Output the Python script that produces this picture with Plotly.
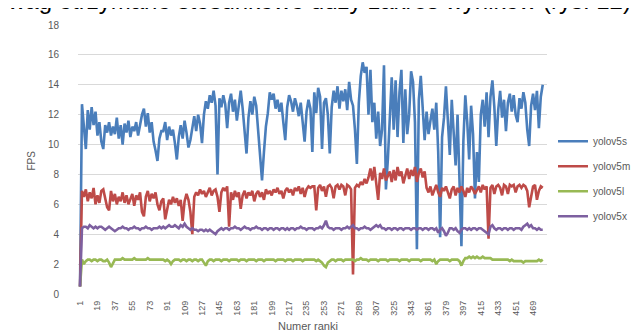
import plotly.graph_objects as go

# Frame index (every 2nd frame sampled)
frames = list(range(1, 481, 2))

yolov5s = [
 0.5, 12.7, 11.2, 9.7, 12.3, 11.0, 12.5, 11.3, 12.2, 10.6,
 11.5, 10.2, 9.7, 11.3, 10.8, 11.5, 10.6, 11.2, 10.7, 11.8,
 10.4, 11.3, 10.0, 11.4, 10.8, 11.6, 10.5, 11.2, 10.9, 11.5,
 10.6, 11.3, 12.0, 12.4, 11.2, 12.1, 10.8, 11.5, 10.2, 9.6,
 8.9, 10.4, 10.9, 10.9, 11.5, 10.3, 11.2, 10.6, 11.0, 10.1,
 9.0, 10.5, 11.3, 10.4, 11.6, 10.8, 9.8, 10.3, 11.2, 11.9,
 10.9, 12.0, 11.4, 10.1, 12.0, 12.9, 12.4, 13.3, 12.8, 13.6,
 12.6, 8.0, 13.1, 12.5, 13.3, 12.7, 11.1, 12.8, 13.4, 12.2,
 13.0, 11.6, 12.6, 13.6, 12.4, 11.0, 9.4, 11.8, 12.9, 12.0,
 13.2, 12.6, 11.0, 9.0, 7.6, 9.5, 11.2, 12.1, 13.5, 13.0,
 13.4, 12.4, 13.0, 12.2, 12.8, 11.5, 10.3, 12.5, 13.3, 12.9,
 12.2, 13.1, 12.6, 11.9, 12.8, 11.5, 10.2, 12.2, 13.0, 12.4,
 9.5, 13.5, 12.1, 13.8, 13.2, 9.7, 12.8, 13.1, 12.0, 9.4,
 12.5, 13.6, 12.8, 13.9, 12.4, 13.6, 12.9, 13.7, 12.3, 14.2,
 13.0, 12.6, 11.0, 8.7, 12.8, 14.6, 15.5, 14.8, 15.2, 12.0,
 15.0, 11.5, 12.8, 10.4, 12.2, 9.9, 11.0, 15.3, 7.0, 9.0,
 11.5, 14.5, 11.0, 14.3, 10.5, 13.5, 15.0, 10.1, 13.7, 10.7,
 12.0, 14.9, 14.2, 11.5, 3.0, 13.0, 14.6, 12.5, 10.3, 12.2,
 10.7, 11.6, 12.4, 11.0, 12.8, 9.5, 3.8, 10.5, 11.8, 13.9,
 11.5, 9.3, 13.0, 11.0, 8.6, 12.0, 8.0, 3.2, 10.2, 13.3,
 11.5, 9.0, 12.6, 10.7, 6.4, 9.5, 7.5, 12.0, 13.0, 11.2,
 13.5, 10.5, 13.2, 14.3, 12.5, 9.9, 12.3, 13.6, 11.8, 13.0,
 10.9, 12.8, 13.4, 12.2, 13.3, 12.0, 11.5, 13.1, 12.4, 13.5,
 12.8, 11.0, 9.9, 12.6, 13.4, 12.3, 13.6, 11.1, 13.2, 14.0,
]

yolov5m = [
 0.5, 6.9, 6.5, 7.0, 6.2, 6.8, 6.4, 7.1, 6.0, 6.6,
 6.1, 6.9, 7.0, 6.3, 5.8, 5.6, 6.9, 6.2, 6.7, 6.0,
 6.5, 6.2, 6.8, 6.1, 6.6, 6.0, 6.4, 6.7, 5.9, 6.6,
 6.3, 6.8, 5.5, 5.2, 6.5, 6.9, 6.2, 6.7, 6.4, 6.8,
 6.0, 5.6, 6.2, 6.4, 5.0, 5.6, 6.3, 6.0, 6.5, 6.1,
 6.4, 5.9, 6.3, 4.9, 6.2, 6.7, 6.3, 5.5, 4.0, 6.5,
 6.8, 6.6, 7.0, 6.7, 6.9, 6.5, 6.8, 7.1, 6.6, 6.9,
 7.0, 6.5, 5.5, 6.8, 7.1, 6.9, 7.2, 4.5, 6.8, 6.3,
 6.9, 6.5, 6.8, 5.7, 6.6, 6.9, 6.4, 6.8, 6.6, 6.9,
 6.2, 6.7, 6.9, 6.5, 6.8, 6.3, 7.0, 6.7, 6.9, 6.6,
 7.0, 6.8, 7.1, 6.7, 6.9, 6.4, 6.9, 7.1, 6.8, 7.0,
 6.6, 7.1, 6.9, 7.2, 6.7, 7.1, 6.5, 7.0, 7.2, 7.1,
 7.2, 7.2, 5.6, 7.1, 7.3, 6.9, 7.2, 6.5, 7.2, 7.3,
 7.1, 6.4, 7.2, 7.3, 7.0, 7.3, 7.2, 6.6, 7.3, 7.2,
 7.0, 1.3, 7.1, 7.3, 7.2, 7.5, 7.3, 7.7, 7.4, 7.8,
 8.4, 7.6, 8.5, 7.5, 6.3, 8.1, 7.7, 8.4, 7.6, 7.9,
 8.2, 7.5, 8.3, 7.6, 8.5, 7.9, 8.2, 7.4, 8.0, 8.4,
 7.7, 8.3, 7.9, 8.5, 7.5, 8.1, 8.4, 7.8, 8.2, 7.1,
 6.8, 7.2, 6.6, 7.0, 7.3, 6.8, 6.5, 7.1, 6.9, 7.2,
 6.7, 6.4, 7.0, 7.2, 6.6, 7.1, 6.8, 7.2, 6.9, 6.5,
 7.1, 6.8, 7.2, 7.0, 6.7, 7.0, 7.2, 6.8, 7.3, 7.0,
 7.2, 3.7, 7.1, 7.3, 6.7, 7.2, 7.3, 7.1, 6.6, 7.3,
 7.2, 6.7, 7.3, 7.2, 7.3, 6.8, 7.2, 7.3, 7.1, 7.3,
 7.2, 6.9, 5.8, 6.5, 7.2, 7.3, 6.3, 6.9, 7.2, 7.1,
]

yolov5l = [
 0.5, 2.3, 2.0, 2.2, 2.3, 2.3, 2.2, 2.3, 2.3, 2.2,
 2.3, 2.3, 2.2, 2.2, 2.3, 2.1, 1.8, 2.1, 2.3, 2.3,
 2.3, 2.3, 2.4, 2.3, 2.3, 2.3, 2.3, 2.3, 2.4, 2.3,
 2.3, 2.3, 2.3, 2.3, 2.3, 2.4, 2.3, 2.3, 2.3, 2.3,
 2.3, 2.3, 2.3, 2.3, 2.2, 2.3, 2.2, 2.0, 2.2, 2.3,
 2.3, 2.3, 2.2, 2.3, 2.3, 2.2, 2.3, 2.3, 2.2, 2.3,
 2.3, 2.2, 2.3, 2.3, 2.1, 1.9, 2.2, 2.3, 2.3, 2.2,
 2.3, 2.3, 2.3, 2.2, 2.3, 2.3, 2.3, 2.2, 2.3, 2.3,
 2.3, 2.3, 2.2, 2.3, 2.3, 2.3, 2.2, 2.3, 2.3, 2.3,
 2.3, 2.2, 2.3, 2.3, 2.3, 2.2, 2.3, 2.3, 2.3, 2.3,
 2.3, 2.2, 2.3, 2.3, 2.3, 2.3, 2.2, 2.3, 2.3, 2.3,
 2.2, 2.3, 2.3, 2.3, 2.3, 2.2, 2.3, 2.3, 2.3, 2.3,
 2.3, 2.3, 2.2, 2.3, 2.2, 2.1, 1.9, 1.8, 2.1, 2.2,
 2.3, 2.3, 2.2, 2.3, 2.3, 2.3, 2.2, 2.3, 2.3, 2.3,
 2.3, 2.3, 2.2, 2.3, 2.3, 2.4, 2.3, 2.3, 2.3, 2.2,
 2.3, 2.3, 2.3, 2.3, 2.2, 2.3, 2.3, 2.3, 2.3, 2.2,
 2.3, 2.3, 2.3, 2.3, 2.3, 2.2, 2.3, 2.3, 2.3, 2.3,
 2.2, 2.3, 2.3, 2.3, 2.3, 2.3, 2.2, 2.3, 2.3, 2.3,
 2.3, 2.3, 2.2, 2.3, 2.0, 2.2, 2.3, 2.3, 2.3, 2.3,
 2.3, 2.2, 2.3, 2.3, 2.3, 2.3, 2.2, 1.9, 2.2, 2.4,
 2.4, 2.5, 2.4, 2.5, 2.4, 2.5, 2.4, 2.4, 2.5, 2.4,
 2.4, 2.4, 2.4, 2.3, 2.3, 2.3, 2.3, 2.3, 2.3, 2.3,
 2.3, 2.3, 2.2, 2.3, 2.2, 2.2, 2.2, 2.2, 2.2, 2.1,
 2.2, 2.2, 2.2, 2.2, 2.2, 2.2, 2.2, 2.3, 2.2, 2.3,
]

yolov5x = [
 0.5, 4.4, 4.5, 4.5, 4.4, 4.6, 4.5, 4.4, 4.5, 4.4,
 4.5, 4.5, 4.4, 4.3, 4.4, 4.5, 4.4, 4.3, 4.2, 4.3,
 4.4, 4.4, 4.5, 4.4, 4.4, 4.3, 4.4, 4.4, 4.5, 4.4,
 4.4, 4.3, 4.4, 4.4, 4.5, 4.4, 4.4, 4.3, 4.4, 4.4,
 4.4, 4.5, 4.4, 4.5, 4.4, 4.5, 4.6, 4.5, 4.5, 4.6,
 4.5, 4.4, 4.6, 4.5, 4.7, 4.5, 4.4, 4.3, 4.4, 4.3,
 4.3, 4.2, 4.3, 4.3, 4.2, 4.3, 4.2, 4.3, 4.2, 4.1,
 4.0, 4.2, 4.3, 4.4, 4.3, 4.4, 4.4, 4.3, 4.4, 4.4,
 4.5, 4.4, 4.4, 4.3, 4.4, 4.5, 4.4, 4.4, 4.3, 4.4,
 4.4, 4.5, 4.4, 4.4, 4.3, 4.4, 4.4, 4.3, 4.4, 4.4,
 4.3, 4.4, 4.4, 4.3, 4.4, 4.4, 4.3, 4.4, 4.3, 4.4,
 4.4, 4.3, 4.4, 4.4, 4.5, 4.4, 4.4, 4.3, 4.4, 4.4,
 4.4, 4.3, 4.4, 4.4, 4.5, 4.4, 4.6, 4.9, 4.5, 4.4,
 4.4, 4.3, 4.4, 4.4, 4.4, 4.3, 4.4, 4.4, 4.5, 4.4,
 4.5, 4.6, 4.4, 4.4, 4.3, 4.4, 4.4, 4.5, 4.4, 4.4,
 4.3, 4.4, 4.5, 4.6, 4.5, 4.6, 4.4, 4.4, 4.3, 4.4,
 4.4, 4.3, 4.4, 4.4, 4.3, 4.4, 4.4, 4.3, 4.4, 4.4,
 4.4, 4.3, 4.4, 4.4, 4.3, 4.4, 4.4, 4.3, 4.4, 4.4,
 4.3, 4.4, 4.4, 4.3, 4.4, 4.1, 4.3, 4.4, 4.2, 3.9,
 4.1, 4.4, 4.4, 4.3, 4.4, 4.2, 4.1, 4.3, 4.4, 4.4,
 4.3, 4.4, 4.3, 4.4, 4.4, 4.3, 4.4, 4.4, 4.3, 4.2,
 4.1, 4.0, 4.5, 4.6, 4.4, 4.3, 4.4, 4.4, 4.3, 4.4,
 4.4, 4.3, 4.4, 4.4, 4.3, 4.4, 4.4, 4.4, 4.3, 4.5,
 4.6, 4.7, 4.5, 4.6, 4.4, 4.4, 4.3, 4.4, 4.3, 4.3,
]

tick_labels = [str(v) for v in range(1, 470, 18)]

series = [
    ("yolov5s", yolov5s, "#4A7EBB"),
    ("yolov5m", yolov5m, "#BE4B48"),
    ("yolov5l", yolov5l, "#98B954"),
    ("yolov5x", yolov5x, "#7D60A0"),
]

FONT = "Liberation Sans"
GRAY = "#595959"

fig = go.Figure()
for name, vals, col in series:
    fig.add_trace(go.Scatter(
        x=frames, y=vals, mode="lines", name=name, legendgroup=name,
        line=dict(color=col, width=2.6),
    ))

fig.update_layout(
    width=639, height=334,
    margin=dict(l=70, r=100, t=17, b=48, autoexpand=False),
    paper_bgcolor="white", plot_bgcolor="white",
    font=dict(family=FONT, color=GRAY, size=10),
    legend=dict(
        x=(545 - 70) / 469, xanchor="left", y=0.622, yanchor="top",
        font=dict(size=10, color=GRAY, family=FONT),
        tracegroupgap=6, bgcolor="rgba(0,0,0,0)",
    ),
    showlegend=True,
)

fig.update_xaxes(
    range=[-1.1, 483.4], tickmode="array",
    tickvals=[int(t) for t in tick_labels], ticktext=tick_labels,
    tickangle=-90, showgrid=False, zeroline=False, showline=False,
    ticks="", ticklabelstandoff=4,
    tickfont=dict(size=9, color=GRAY, family=FONT),
)
fig.update_yaxes(
    range=[0, 18], dtick=2, showgrid=True, gridcolor="#D9D9D9", gridwidth=1,
    zeroline=False, showline=False, ticks="", ticklabelstandoff=18,
    tickfont=dict(size=10, color=GRAY, family=FONT),
)

fig.add_annotation(text="FPS", xref="paper", yref="paper",
                   x=(15 - 70) / 469, y=(286 - 153) / 269,
                   textangle=-90, showarrow=False,
                   font=dict(size=10, color=GRAY, family=FONT))
fig.add_annotation(text="Numer ranki", xref="paper", yref="paper",
                   x=(300 - 70) / 469, y=(286 - 326) / 269,
                   showarrow=False,
                   font=dict(size=11, color=GRAY, family=FONT))
fig.add_annotation(text="wag otrzymano stosunkowo duży zakres wyników (rys. 12).",
                   xref="paper", yref="paper",
                   x=(632 - 70) / 469, xanchor="right",
                   y=(286 - 8) / 269, yanchor="bottom",
                   showarrow=False,
                   font=dict(size=24, color="black", family=FONT))

fig.write_html("out.html")
